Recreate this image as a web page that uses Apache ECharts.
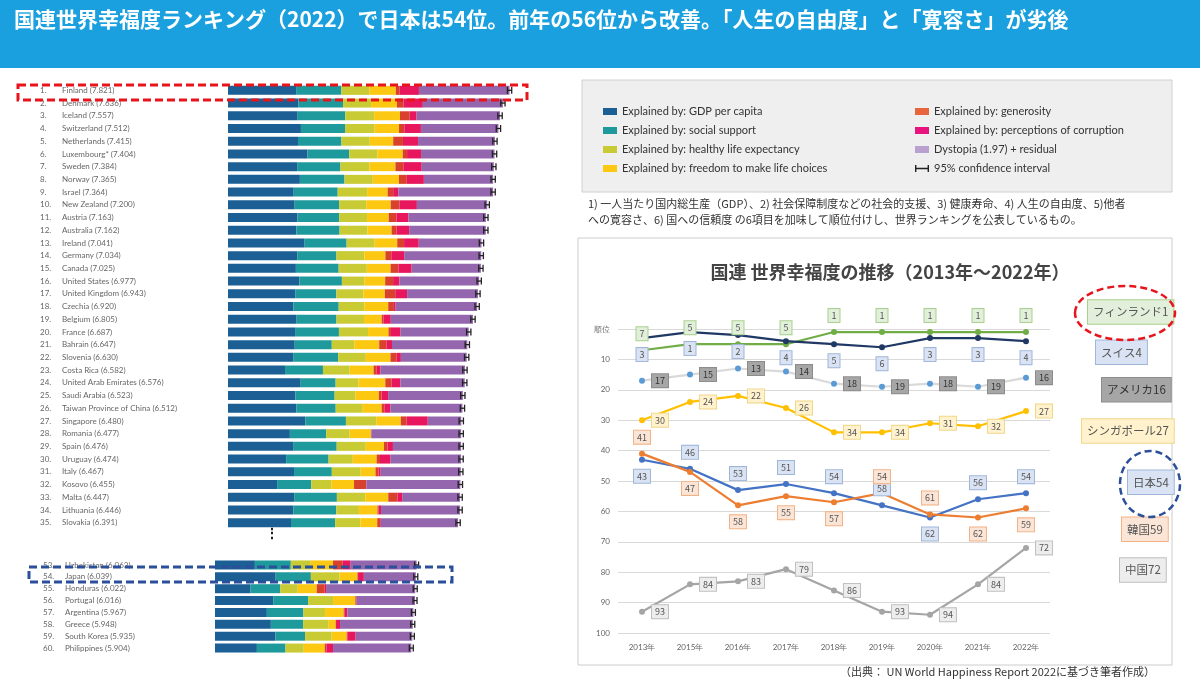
<!DOCTYPE html>
<html><head><meta charset="utf-8">
<script src="https://cdn.jsdelivr.net/npm/echarts@6/dist/echarts.min.js"></script>
<style>html,body{margin:0;padding:0;background:#fff}#c{width:1200px;height:682px}</style>
</head><body><div id="c"></div>
<script>
// ---- Bar chart data (World Happiness Report 2022) ----
const ranksTop = [1,2,3,4,5,6,7,8,9,10,11,12,13,14,15,16,17,18,19,20,21,22,23,24,25,26,27,28,29,30,31,32,33,34,35];
const namesTop = ["Finland","Denmark","Iceland","Switzerland","Netherlands","Luxembourg*","Sweden","Norway","Israel","New Zealand","Austria","Australia","Ireland","Germany","Canada","United States","United Kingdom","Czechia","Belgium","France","Bahrain","Slovenia","Costa Rica","United Arab Emirates","Saudi Arabia","Taiwan Province of China","Singapore","Romania","Spain","Uruguay","Italy","Kosovo","Malta","Lithuania","Slovakia"];
const scoresTop = [7.821,7.636,7.557,7.512,7.415,7.404,7.384,7.365,7.364,7.200,7.163,7.162,7.041,7.034,7.025,6.977,6.943,6.920,6.805,6.687,6.647,6.630,6.582,6.576,6.523,6.512,6.480,6.477,6.476,6.474,6.467,6.455,6.447,6.446,6.391];
const gdpTop = [1.892,1.953,1.936,2.026,1.945,2.209,1.920,1.997,1.826,1.852,1.931,1.900,2.129,1.924,1.886,1.982,1.867,1.815,1.907,1.863,1.854,1.810,1.584,2.020,1.870,1.897,2.149,1.719,1.808,1.615,1.834,1.364,1.838,1.814,1.750];
const socialTop = [1.258,1.243,1.320,1.226,1.206,1.155,1.204,1.239,1.221,1.235,1.157,1.200,1.166,1.088,1.188,1.182,1.143,1.260,1.106,1.219,1.029,1.249,1.054,0.970,1.092,1.095,1.127,1.006,1.211,1.179,1.050,0.949,1.187,1.195,1.226];
const healthTop = [0.775,0.777,0.803,0.822,0.787,0.790,0.803,0.786,0.818,0.752,0.774,0.775,0.779,0.776,0.783,0.628,0.750,0.715,0.764,0.808,0.625,0.769,0.744,0.633,0.577,0.733,0.851,0.655,0.808,0.672,0.801,0.559,0.788,0.628,0.700];
const freedomTop = [0.736,0.719,0.718,0.677,0.651,0.700,0.724,0.728,0.568,0.680,0.603,0.669,0.627,0.585,0.659,0.574,0.597,0.660,0.492,0.567,0.693,0.685,0.661,0.747,0.651,0.542,0.672,0.590,0.505,0.662,0.412,0.629,0.639,0.515,0.470];
const generosityTop = [0.109,0.188,0.270,0.147,0.271,0.120,0.218,0.217,0.155,0.245,0.214,0.142,0.190,0.163,0.217,0.220,0.289,0.158,0.049,0.070,0.199,0.174,0.089,0.175,0.078,0.075,0.163,0.010,0.101,0.094,0.085,0.334,0.257,0.029,0.080];
const corruptionTop = [0.534,0.532,0.191,0.461,0.419,0.388,0.512,0.474,0.143,0.483,0.333,0.346,0.408,0.358,0.368,0.177,0.329,0.048,0.204,0.266,0.155,0.115,0.102,0.246,0.180,0.168,0.587,0.003,0.149,0.294,0.059,0.010,0.129,0.070,0.020];
const dystopiaTop = [2.517,2.224,2.319,2.153,2.136,2.042,2.003,1.924,2.633,1.953,2.151,2.130,1.742,2.140,1.924,2.214,1.968,2.264,2.283,1.894,2.092,1.828,2.348,1.785,2.075,2.002,0.931,2.494,1.894,1.958,2.226,2.610,1.609,2.195,2.145];

const ranksBot = [53,54,55,56,57,58,59,60];
const namesBot = ["Uzbekistan","Japan","Honduras","Portugal","Argentina","Greece","South Korea","Philippines"];
const scoresBot = [6.063,6.039,6.022,6.016,5.967,5.948,5.935,5.904];
const gdpBot = [1.20,1.825,1.07,1.75,1.56,1.68,1.82,1.26];
const socialBot = [1.08,1.058,0.89,1.05,1.10,0.97,0.89,0.86];
const healthBot = [0.60,0.862,0.53,0.75,0.65,0.77,0.80,0.55];
const freedomBot = [0.67,0.539,0.57,0.67,0.56,0.21,0.45,0.63];
const generosityBot = [0.28,0.018,0.24,0.02,0.03,0.01,0.02,0.05];
const corruptionBot = [0.25,0.175,0.04,0.02,0.08,0.12,0.25,0.20];
const dystopiaBot = [1.983,1.562,2.682,1.756,1.987,2.188,1.705,2.354];

// ---- Line chart data ----
const years = ["2013年","2015年","2016年","2017年","2018年","2019年","2020年","2021年","2022年"];
const finland = [7,5,5,5,1,1,1,1,1];
const swiss = [3,1,2,4,5,6,3,3,4];
const usa = [17,15,13,14,18,19,18,19,16];
const singapore = [30,24,22,26,34,34,31,32,27];
const japan = [43,46,53,51,54,58,62,56,54];
const korea = [41,47,58,55,57,54,61,62,59];
const china = [93,84,83,79,86,93,94,84,72];

const compNames = ["Explained by: GDP per capita","Explained by: social support","Explained by: healthy life expectancy","Explained by: freedom to make life choices","Explained by: generosity","Explained by: perceptions of corruption","Dystopia (1.97) + residual"];
const compColors = ["#1b5f95","#1f9a9c","#c9cb35","#fdc811","#d8412c","#e8175d","#9466ad"];
const legendColors = ["#1b5f95","#1f9a9c","#c9cb35","#fdc811","#e8643c","#e8137f","#b9a0cf"];
const topComps = [gdpTop,socialTop,healthTop,freedomTop,generosityTop,corruptionTop,dystopiaTop];
const botComps = [gdpBot,socialBot,healthBot,freedomBot,generosityBot,corruptionBot,dystopiaBot];

const chart = echarts.init(document.getElementById('c'));
const series = [];
compNames.forEach((n,i)=>{
  series.push({name:n,type:'bar',stack:'t',xAxisIndex:0,yAxisIndex:0,barWidth:9,itemStyle:{color:compColors[i]},data:topComps[i],silent:true});
  series.push({name:n,type:'bar',stack:'b',xAxisIndex:1,yAxisIndex:1,barWidth:9,itemStyle:{color:compColors[i]},data:botComps[i],silent:true});
});
function ciRender(params, api){
  const s=api.value(0), idx=api.value(1);
  const a=api.coord([s-0.06,idx]), b=api.coord([s+0.06,idx]);
  const h=3.5, st={stroke:'#222',lineWidth:1.3};
  return {type:'group',children:[
    {type:'line',shape:{x1:a[0],y1:a[1],x2:b[0],y2:b[1]},style:st},
    {type:'line',shape:{x1:a[0],y1:a[1]-h,x2:a[0],y2:a[1]+h},style:st},
    {type:'line',shape:{x1:b[0],y1:b[1]-h,x2:b[0],y2:b[1]+h},style:st}]};
}
series.push({name:'95% confidence interval',type:'custom',xAxisIndex:0,yAxisIndex:0,itemStyle:{color:'#222'},renderItem:ciRender,data:scoresTop.map((s,i)=>[s,i]),z:5});
series.push({name:'95% confidence interval',type:'custom',xAxisIndex:1,yAxisIndex:1,itemStyle:{color:'#222'},renderItem:ciRender,data:scoresBot.map((s,i)=>[s,i]),z:5});

function lineSeries(name,data,color,lblBg,lblBorder,pos,endOffset,symColor,overrides,lblColor){
  return {name:name,type:'line',xAxisIndex:2,yAxisIndex:2,
    data:data.map((v,i)=>overrides&&overrides[i]?{value:v,label:{position:overrides[i]}}:v),
    lineStyle:{color:color,width:2.2},itemStyle:{color:symColor||color},symbol:'circle',symbolSize:6,
    label:{show:true,position:pos,distance:7,fontSize:9,color:lblColor||'#555',backgroundColor:lblBg,borderColor:lblBorder,borderWidth:1,padding:[2,3],fontFamily:'Noto Sans CJK JP'},
    endLabel:{show:true,formatter:name+data[data.length-1],offset:endOffset,fontSize:11.5,color:lblColor||'#555',backgroundColor:lblBg,borderColor:lblBorder,borderWidth:1,padding:[6,5],fontFamily:'Noto Sans CJK JP'},
    z:10};
}
series.push(lineSeries('フィンランド',finland,'#70ad47','#e2efda','#a9d08e','top',[54,-20],null,null));
series.push(lineSeries('スイス',swiss,'#203864','#dae3f3','#9fb6d9','bottom',[62,11],null,null));
series.push(lineSeries('アメリカ',usa,'#d9d9d9','#a6a6a6','#8c8c8c','right',[68,12],'#5b9bd5',null,'#333'));
series.push(lineSeries('シンガポール',singapore,'#ffc000','#fff2cc','#f0d78a','right',[48,20],null,null));
series.push(lineSeries('日本',japan,'#4472c4','#dae3f3','#9fb6d9','top',[94,-11],null,{0:'bottom',6:'bottom'}));
series.push(lineSeries('韓国',korea,'#ed7d31','#fbe5d6','#f4b183','bottom',[88,21],null,{0:'top',5:'top',6:'top'}));
series.push(lineSeries('中国',china,'#a5a5a5','#ededed','#bfbfbf','right',[86,22],null,null));

const hIcon='path://M0,0h2v4h16v-4h2v10h-2v-4h-16v4h-2z';
const labelRich={r:{width:22,fontSize:8,color:'#666'},n:{fontSize:8,color:'#666'}};
const legItem=(n,i)=>({name:n,itemStyle:{color:legendColors[i]}});
chart.setOption({
  animation:false,
  textStyle:{fontFamily:'Lato, sans-serif'},
  title:{text:'国連 世界幸福度の推移（2013年～2022年）',left:885,textAlign:'center',top:258,textStyle:{fontSize:18,fontWeight:'bold',color:'#444',fontFamily:'Noto Sans CJK JP'}},
  legend:[
    {data:compNames.slice(0,4).map((n,i)=>legItem(n,i)),left:598,top:101,orient:'vertical',itemWidth:14,itemHeight:7,itemGap:8,textStyle:{fontSize:11,color:'#333'},selectedMode:false,icon:'rect'},
    {data:[legItem(compNames[4],4),legItem(compNames[5],5),legItem(compNames[6],6),{name:'95% confidence interval',icon:hIcon}],left:910,top:101,orient:'vertical',itemWidth:14,itemHeight:7,itemGap:8,textStyle:{fontSize:11,color:'#333'},selectedMode:false,icon:'rect'}
  ],
  grid:[
    {left:228,top:84,width:288,height:445},
    {left:215,top:559,width:266,height:95},
    {left:618,top:329,width:432,height:304}
  ],
  xAxis:[
    {gridIndex:0,type:'value',min:0,max:8,show:false},
    {gridIndex:1,type:'value',min:0,max:8,show:false},
    {gridIndex:2,type:'category',data:years,boundaryGap:true,axisLine:{show:false},axisTick:{show:false},axisLabel:{fontSize:8,color:'#666',margin:10}}
  ],
  yAxis:[
    {gridIndex:0,type:'category',inverse:true,data:namesTop,axisLine:{show:false},axisTick:{show:false},
     axisLabel:{interval:0,align:'left',margin:188,formatter:(v,i)=>`{r|${ranksTop[i]}.}{n|${v} (${scoresTop[i].toFixed(3)})}`,rich:labelRich}},
    {gridIndex:1,type:'category',inverse:true,data:namesBot,axisLine:{show:false},axisTick:{show:false},
     axisLabel:{interval:0,align:'left',margin:172,formatter:(v,i)=>`{r|${ranksBot[i]}.}{n|${v} (${scoresBot[i].toFixed(3)})}`,rich:labelRich}},
    {gridIndex:2,type:'value',inverse:true,min:0,max:100,interval:10,axisLine:{show:false},axisTick:{show:false},
     splitLine:{lineStyle:{color:'#d9d9d9'}},axisLabel:{fontSize:8,color:'#666',formatter:v=>v===0?'順位':v}}
  ],
  series:series,
  graphic:[
    {type:'rect',shape:{x:0,y:0,width:1200,height:68},style:{fill:'#1aa0de'},z:-1},
    {type:'text',left:14,top:9,style:{text:'国連世界幸福度ランキング（2022）で日本は54位。前年の56位から改善。「人生の自由度」と「寛容さ」が劣後',fill:'#fff',fontSize:21,fontWeight:'bold',fontFamily:'Noto Sans CJK JP'}},
    {type:'rect',shape:{x:582,y:80,width:590,height:112},style:{fill:'#efefef',stroke:'#d0d0d0'},z:-1},
    {type:'text',left:588,top:196,style:{text:'1) 一人当たり国内総生産（GDP）、2) 社会保障制度などの社会的支援、3) 健康寿命、4) 人生の自由度、5)他者\nへの寛容さ、6) 国への信頼度 の6項目を加味して順位付けし、世界ランキングを公表しているもの。',fill:'#333',fontSize:11,lineHeight:16,fontFamily:'Noto Sans CJK JP'}},
    {type:'rect',shape:{x:578,y:238,width:594,height:427},style:{fill:'none',stroke:'#cccccc'},z:-1},
    {type:'text',left:840,top:666,style:{text:'（出典： UN World Happiness Report 2022に基づき筆者作成）',fill:'#333',fontSize:11,fontFamily:'Noto Sans CJK JP'}},
    {type:'text',left:265,top:527,style:{text:'⋮',fill:'#222',fontSize:14,fontWeight:'bold'}},
    {type:'rect',shape:{x:18,y:85,width:509,height:15},style:{fill:'none',stroke:'#e8141b',lineWidth:3,lineDash:[8,4]},z:20},
    {type:'rect',shape:{x:29,y:567,width:423,height:15},style:{fill:'none',stroke:'#2b4f9a',lineWidth:3,lineDash:[8,4]},z:20},
    {type:'ellipse',shape:{cx:1125,cy:313,rx:50,ry:27},style:{fill:'none',stroke:'#e8141b',lineWidth:2.5,lineDash:[7,4]},z:20},
    {type:'ellipse',shape:{cx:1150,cy:484,rx:30,ry:33},style:{fill:'none',stroke:'#2b4f9a',lineWidth:2.5,lineDash:[7,4]},z:20}
  ]
});
</script></body></html>
